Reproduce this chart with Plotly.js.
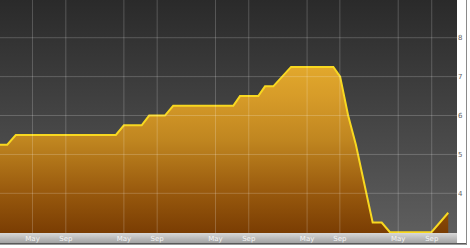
<!DOCTYPE html>
<html><head><meta charset="utf-8">
<script src="https://cdn.plot.ly/plotly-3.0.1.min.js"></script>
<style>
html,body{margin:0;padding:0;width:470px;height:248px;overflow:hidden;background:#fff;}
#wrap{position:relative;width:470px;height:248px;}
#bg{position:absolute;left:0;top:0;width:457px;height:233px;background:linear-gradient(#2a2a2a,#5e5e5e);}
#bar{position:absolute;left:0;top:233px;width:457px;height:10px;background:linear-gradient(#d8d8d8,#a2a2a2);}
#shadow{position:absolute;left:0;top:243px;width:467px;height:2px;background:linear-gradient(#3a3a3a,#bbbbbb);}
#vline{position:absolute;left:466px;top:0;width:1px;height:245px;background:#8a8a8a;}
#chart{position:absolute;left:0;top:0;width:470px;height:248px;}
</style></head>
<body>
<div id="wrap">
<div id="bg"></div><div id="bar"></div><div id="shadow"></div><div id="vline"></div>
<div id="chart"></div>
</div>
<script>
// Cash rate (%)
const dates = [
  '2005-01-01','2005-01-30','2005-03-05','2006-04-09','2006-05-11','2006-07-21',
  '2006-08-20','2006-10-22','2006-11-24','2007-07-22','2007-08-18','2007-10-30',
  '2007-11-26','2007-12-29','2008-03-09','2008-08-25','2008-09-21','2008-10-23',
  '2008-11-23','2008-12-27','2009-01-29','2009-03-06','2009-04-08','2009-09-21',
  '2009-11-27'
];
const rates = [
  5.25,5.25,5.5,5.5,5.75,5.75,
  6.0,6.0,6.25,6.25,6.5,6.5,
  6.75,6.75,7.25,7.25,7.0,6.0,
  5.25,4.25,3.25,3.25,3.0,3.0,
  3.5
];
const xTickVals = ['2005-05-11','2005-09-21','2006-05-11','2006-09-21','2007-05-12','2007-09-22','2008-05-12','2008-09-20','2009-05-11','2009-09-22'];
const xTickText = ['May','Sep','May','Sep','May','Sep','May','Sep','May','Sep'];
const yTickVals = [4,5,6,7,8];
const yTickText = ['4','5','6','7','8'];

const gridColor = 'rgba(255,255,255,0.2)';
const shapes = [];
yTickVals.forEach(v => shapes.push({type:'line', xref:'paper', x0:0, x1:1, yref:'y', y0:v, y1:v, layer:'above', line:{color:gridColor, width:1}}));
xTickVals.forEach(v => shapes.push({type:'line', xref:'x', x0:v, x1:v, yref:'paper', y0:0, y1:1, layer:'above', line:{color:gridColor, width:1}}));

const trace = {
  x: dates, y: rates, type:'scatter', mode:'lines',
  line:{color:'#f8d820', width:2},
  fill:'tozeroy',
  fillgradient:{type:'vertical', start:2.98, stop:7.25,
    colorscale:[[0,'#7a3d03'],[0.26,'#9a5b0e'],[0.56,'#c08620'],[0.8,'#d59a28'],[1,'#e2a82c']]},
  hoverinfo:'skip'
};

const layout = {
  width:470, height:248,
  margin:{l:0, r:13, t:0, b:15, pad:0},
  paper_bgcolor:'rgba(0,0,0,0)', plot_bgcolor:'rgba(0,0,0,0)',
  showlegend:false,
  xaxis:{type:'date', range:['2005-01-01','2010-01-01'], tickvals:xTickVals, ticktext:xTickText,
    showgrid:false, zeroline:false, showline:false, ticks:'',
    tickfont:{family:'DejaVu Sans', size:7, color:'#f4f4f4'}, fixedrange:true},
  yaxis:{side:'right', range:[2.98, 8.97], tickvals:yTickVals, ticktext:yTickText,
    showgrid:false, zeroline:false, showline:false, ticks:'',
    tickfont:{family:'DejaVu Sans', size:7, color:'#666'}, fixedrange:true},
  shapes: shapes
};
Plotly.newPlot('chart', [trace], layout, {staticPlot:true, displayModeBar:false});
</script>
</body></html>
